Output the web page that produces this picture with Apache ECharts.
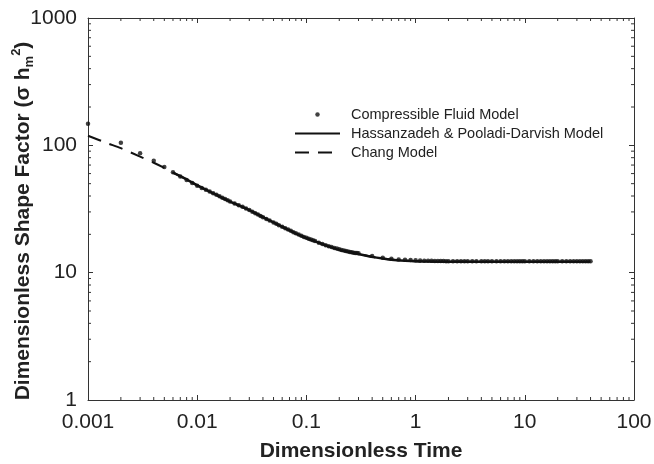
<!DOCTYPE html>
<html>
<head>
<meta charset="utf-8">
<script src="https://cdn.jsdelivr.net/npm/echarts@6/dist/echarts.min.js"></script>
<style>
  html, body { margin: 0; padding: 0; background: #fff; }
  #shapeFactor { width: 654px; height: 464px; }
</style>
</head>
<body>
<div id="shapeFactor"></div>
<script>
// tick labels
const xTickLabels = ["0.001", "0.01", "0.1", "1", "10", "100"];
const yTickLabels = ["1", "10", "100", "1000"];
// minor ticks: 2..9 in every decade
const minorSteps = [2, 3, 4, 5, 6, 7, 8, 9];
const xDecades = [0.001, 0.01, 0.1, 1, 10];
const yDecades = [1, 10, 100];

// Compressible Fluid Model (dots)
const dotTime = [
  0.001, 0.002, 0.003, 0.004, 0.005, 0.006, 0.007, 0.008, 0.009,
  0.010, 0.011, 0.012, 0.013, 0.014, 0.015, 0.016, 0.017, 0.018, 0.019, 0.020,
  0.022, 0.024, 0.026, 0.028, 0.030, 0.032, 0.034, 0.036, 0.038, 0.040,
  0.043, 0.046, 0.050, 0.053, 0.056, 0.060, 0.064, 0.068, 0.072, 0.076, 0.080,
  0.085, 0.090, 0.095, 0.100, 0.105, 0.110, 0.115, 0.120, 0.130, 0.140, 0.150,
  0.160, 0.170, 0.180, 0.190, 0.200, 0.210, 0.220, 0.230, 0.240, 0.250, 0.260, 0.270, 0.280, 0.290,
  0.3, 0.4, 0.5, 0.6, 0.7, 0.8, 0.9, 1.0,
  1.1, 1.2, 1.3, 1.4, 1.5, 1.6, 1.7, 1.8, 1.9, 2.0, 2.2, 2.4, 2.6, 2.8, 3.0, 3.3, 3.6, 4.0,
  4.3, 4.6, 5.0, 5.5, 6.0, 6.5, 7.0, 7.5, 8.0, 8.5, 9.0, 9.5, 10,
  11, 12, 13, 14, 15, 16, 17, 18, 19, 20, 22, 24, 26, 28, 30, 32, 34, 36, 38, 40
];
const dotValue = [
  148, 105, 86.5, 75.5, 67.5, 61.5, 57, 53.5, 50.5,
  48.2, 46.3, 44.7, 43.3, 42.0, 40.9, 39.8, 38.8, 37.9, 37.0, 36.2,
  35.0, 33.9, 32.9, 31.9, 31.0, 30.1, 29.3, 28.6, 27.9, 27.3,
  26.4, 25.7, 24.8, 24.2, 23.6, 22.9, 22.3, 21.8, 21.3, 20.8, 20.4,
  19.9, 19.5, 19.1, 18.8, 18.5, 18.2, 17.95, 17.7, 17.2, 16.8, 16.45,
  16.15, 15.9, 15.65, 15.45, 15.3, 15.1, 14.95, 14.8, 14.65, 14.55, 14.45, 14.35, 14.3, 14.25,
  14.2, 13.5, 13.1, 12.87, 12.7, 12.62, 12.55, 12.5,
  12.46, 12.43, 12.4, 12.38, 12.36, 12.35, 12.34, 12.33, 12.32, 12.32, 12.31, 12.31, 12.3, 12.3, 12.3, 12.3, 12.3, 12.3,
  12.3, 12.3, 12.3, 12.3, 12.3, 12.3, 12.3, 12.3, 12.3, 12.3, 12.3, 12.3, 12.3,
  12.3, 12.3, 12.3, 12.3, 12.3, 12.3, 12.3, 12.3, 12.3, 12.3, 12.3, 12.3, 12.3, 12.3, 12.3, 12.3, 12.3, 12.3, 12.3, 12.3
];

// Hassanzadeh & Pooladi-Darvish Model (solid)
const hpdTime = [0.006, 0.008, 0.01, 0.015, 0.02, 0.03, 0.04, 0.05, 0.06, 0.08, 0.1, 0.12, 0.15, 0.2, 0.25, 0.3, 0.4, 0.5, 0.6, 0.8, 1, 1.5, 2, 3, 5, 10, 20, 40];
const hpdValue = [61, 54, 48.5, 40.8, 36.2, 31.0, 27.3, 24.8, 22.9, 20.3, 18.7, 17.6, 16.4, 15.1, 14.5, 14.0, 13.3, 12.9, 12.65, 12.42, 12.3, 12.22, 12.2, 12.2, 12.2, 12.2, 12.2, 12.2];

// Chang Model (dashed)
const changTime = [0.001, 0.0015, 0.002, 0.003, 0.004, 0.005, 0.006, 0.008, 0.01, 0.015, 0.02, 0.03, 0.05, 0.1, 0.2, 0.3, 0.5, 1, 2, 5, 10, 20, 40];
const changValue = [119, 104, 95, 81.5, 73, 66.5, 61, 54, 48.5, 40.8, 36.2, 31.0, 24.8, 18.7, 15.1, 14.0, 12.9, 12.28, 12.18, 12.15, 12.15, 12.15, 12.15];

const seriesNames = ["Compressible Fluid Model", "Hassanzadeh & Pooladi-Darvish Model", "Chang Model"];

const pairs = (xs, ys) => xs.map((x, i) => [x, ys[i]]);
const minorX = [];
xDecades.forEach(d => minorSteps.forEach(k => minorX.push([d * k, 1])));
const minorY = [];
yDecades.forEach(d => minorSteps.forEach(k => minorY.push([0.001, d * k])));

const axisColor = "#333";
const textColor = "#222";
const fontFamily = "Liberation Sans, Arial, sans-serif";

const chart = echarts.init(document.getElementById("shapeFactor"));

const option = {
  backgroundColor: "#fff",
  animation: false,
  textStyle: { fontFamily: fontFamily },
  grid: { left: 88, right: 20, top: 18, bottom: 64, containLabel: false, outerBoundsMode: "none" },
  legend: {
    orient: "vertical",
    left: 289,
    top: 102,
    itemWidth: 45,
    itemHeight: 4.5,
    itemGap: 4,
    selectedMode: false,
    textStyle: { fontSize: 14.5, color: textColor, padding: [0, 0, 0, 6] },
    data: seriesNames
  },
  xAxis: [
    {
      type: "log",
      logBase: 10,
      min: 0.001,
      max: 100,
      splitNumber: 5,
      name: "Dimensionless Time",
      nameLocation: "middle",
      nameGap: 41,
      nameMoveOverlap: false,
      nameTextStyle: { fontSize: 21, fontWeight: "bold", color: textColor },
      axisLine: { lineStyle: { color: axisColor, width: 1 } },
      axisTick: { inside: true, length: 5, lineStyle: { color: axisColor } },
      axisLabel: {
        fontSize: 21,
        color: textColor,
        margin: 12,
        formatter: v => xTickLabels[Math.round(Math.log10(v)) + 3]
      },
      splitLine: { show: false }
    },
    {
      type: "log",
      logBase: 10,
      min: 0.001,
      max: 100,
      splitNumber: 5,
      position: "top",
      axisLine: { lineStyle: { color: axisColor, width: 1 } },
      axisTick: { inside: true, length: 5, lineStyle: { color: axisColor } },
      axisLabel: { show: false },
      splitLine: { show: false }
    }
  ],
  yAxis: [
    {
      type: "log",
      logBase: 10,
      min: 1,
      max: 1000,
      splitNumber: 3,
      name: "Dimensionless Shape Factor (σ h{sub|m}{sup|2})",
      nameLocation: "middle",
      nameRotate: 90,
      nameGap: 52,
      nameMoveOverlap: false,
      nameTextStyle: {
        fontSize: 21,
        fontWeight: "bold",
        color: textColor,
        lineHeight: 26,
        padding: [0, 24, 0, 0],
        rich: {
          sub: { fontSize: 13, fontWeight: "bold", color: textColor, verticalAlign: "bottom", lineHeight: 17 },
          sup: { fontSize: 13, fontWeight: "bold", color: textColor, verticalAlign: "top", lineHeight: 12 }
        }
      },
      axisLine: { lineStyle: { color: axisColor, width: 1 } },
      axisTick: { inside: true, length: 5, lineStyle: { color: axisColor } },
      axisLabel: {
        fontSize: 21,
        color: textColor,
        margin: 11,
        formatter: v => yTickLabels[Math.round(Math.log10(v))]
      },
      splitLine: { show: false }
    },
    {
      type: "log",
      logBase: 10,
      min: 1,
      max: 1000,
      splitNumber: 3,
      position: "right",
      axisLine: { lineStyle: { color: axisColor, width: 1 } },
      axisTick: { inside: true, length: 5, lineStyle: { color: axisColor } },
      axisLabel: { show: false },
      splitLine: { show: false }
    }
  ],
  series: [
    {
      name: seriesNames[0],
      type: "scatter",
      symbol: "circle",
      symbolSize: 4.5,
      itemStyle: { color: "#111" },
      z: 5,
      data: pairs(dotTime, dotValue)
    },
    {
      name: seriesNames[1],
      type: "line",
      symbol: "none",
      smooth: 0.3,
      itemStyle: { color: "rgba(0,0,0,0)" },
      lineStyle: { color: "#111", width: 2.5, type: "solid" },
      z: 4,
      data: pairs(hpdTime, hpdValue)
    },
    {
      name: seriesNames[2],
      type: "line",
      symbol: "none",
      smooth: 0.3,
      itemStyle: { color: "rgba(0,0,0,0)" },
      lineStyle: { color: "#111", width: 2, type: [14, 9] },
      z: 3,
      data: pairs(changTime, changValue)
    },
    {
      // minor ticks on bottom and top
      type: "custom",
      silent: true,
      clip: false,
      renderItem: (params, api) => {
        const cs = params.coordSys;
        const x = api.coord([api.value(0), 1])[0];
        const style = { stroke: axisColor, lineWidth: 1 };
        return {
          type: "group",
          children: [
            { type: "line", shape: { x1: x, y1: cs.y + cs.height, x2: x, y2: cs.y + cs.height - 3 }, style: style },
            { type: "line", shape: { x1: x, y1: cs.y, x2: x, y2: cs.y + 3 }, style: style }
          ]
        };
      },
      data: minorX
    },
    {
      // minor ticks on left and right
      type: "custom",
      silent: true,
      clip: false,
      renderItem: (params, api) => {
        const cs = params.coordSys;
        const y = api.coord([0.001, api.value(1)])[1];
        const style = { stroke: axisColor, lineWidth: 1 };
        return {
          type: "group",
          children: [
            { type: "line", shape: { x1: cs.x, y1: y, x2: cs.x + 3, y2: y }, style: style },
            { type: "line", shape: { x1: cs.x + cs.width, y1: y, x2: cs.x + cs.width - 3, y2: y }, style: style }
          ]
        };
      },
      data: minorY
    }
  ]
};

chart.setOption(option);
window.addEventListener("resize", () => chart.resize());
</script>
</body>
</html>
